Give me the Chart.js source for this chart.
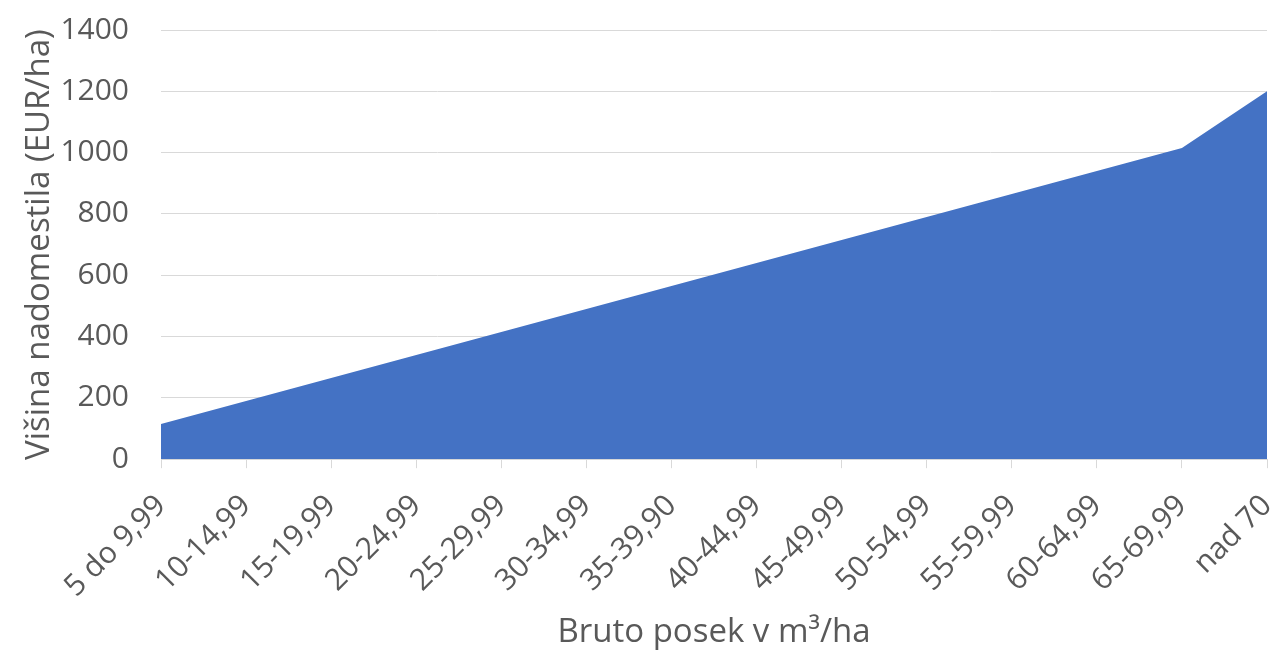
<!DOCTYPE html>
<html>
<head>
<meta charset="utf-8">
<script src="https://cdn.jsdelivr.net/npm/chart.js@4/dist/chart.umd.min.js"></script>
<style>
  html, body { margin: 0; padding: 0; background: #fff; }
  #wrap { width: 1273px; height: 653px; }
</style>
</head>
<body>
<div id="wrap"><canvas id="c"></canvas></div>
<script>
// razredi bruto poseka
const categories = ['5 do 9,99', '10-14,99', '15-19,99', '20-24,99', '25-29,99', '30-34,99', '35-39,90',
  '40-44,99', '45-49,99', '50-54,99', '55-59,99', '60-64,99', '65-69,99', 'nad 70'];
// visina nadomestila EUR/ha
const values = [115, 190, 265, 340, 415, 490, 565, 640, 715, 790, 865, 940, 1015, 1200];
const yTicks = [0, 200, 400, 600, 800, 1000, 1200, 1400];

const grey = '#595959';
const font = 'Open Sans';

new Chart(document.getElementById('c'), {
  type: 'line',
  data: {
    labels: categories,
    datasets: [{
      data: values,
      fill: 'origin',
      backgroundColor: '#4472C4',
      borderColor: '#4472C4',
      borderWidth: 0,
      pointRadius: 0,
      tension: 0
    }]
  },
  options: {
    responsive: true,
    maintainAspectRatio: false,
    animation: false,
    layout: { padding: { left: 16, right: 6, top: 30, bottom: -3 } },
    plugins: { legend: { display: false }, tooltip: { enabled: false } },
    scales: {
      x: {
        offset: false,
        // rotated labels would otherwise push the plot area in
        afterFit: s => { s.paddingLeft = 0; s.paddingRight = 0; },
        grid: { drawOnChartArea: false, color: '#d9d9d9', tickLength: 9 },
        border: { color: '#d9d9d9' },
        ticks: { color: grey, font: { family: font, size: 30 }, minRotation: 45, maxRotation: 45, padding: 20 },
        title: { display: true, text: 'Bruto posek v m³/ha', color: grey, font: { family: font, size: 33 }, padding: { top: -12 } }
      },
      y: {
        min: 0, max: 1400,
        afterBuildTicks: axis => { axis.ticks = yTicks.map(v => ({ value: v })); },
        afterFit: s => { s.paddingTop = 0; s.paddingBottom = 0; s.width = 145; },
        grid: { color: '#d9d9d9', drawTicks: false },
        border: { display: false },
        ticks: { color: grey, font: { family: font, size: 30 }, padding: 32, callback: v => String(v) },
        title: { display: true, text: 'Višina nadomestila (EUR/ha)', color: grey, font: { family: font, size: 33 }, padding: { bottom: 8 } }
      }
    }
  }
});
</script>
</body>
</html>
